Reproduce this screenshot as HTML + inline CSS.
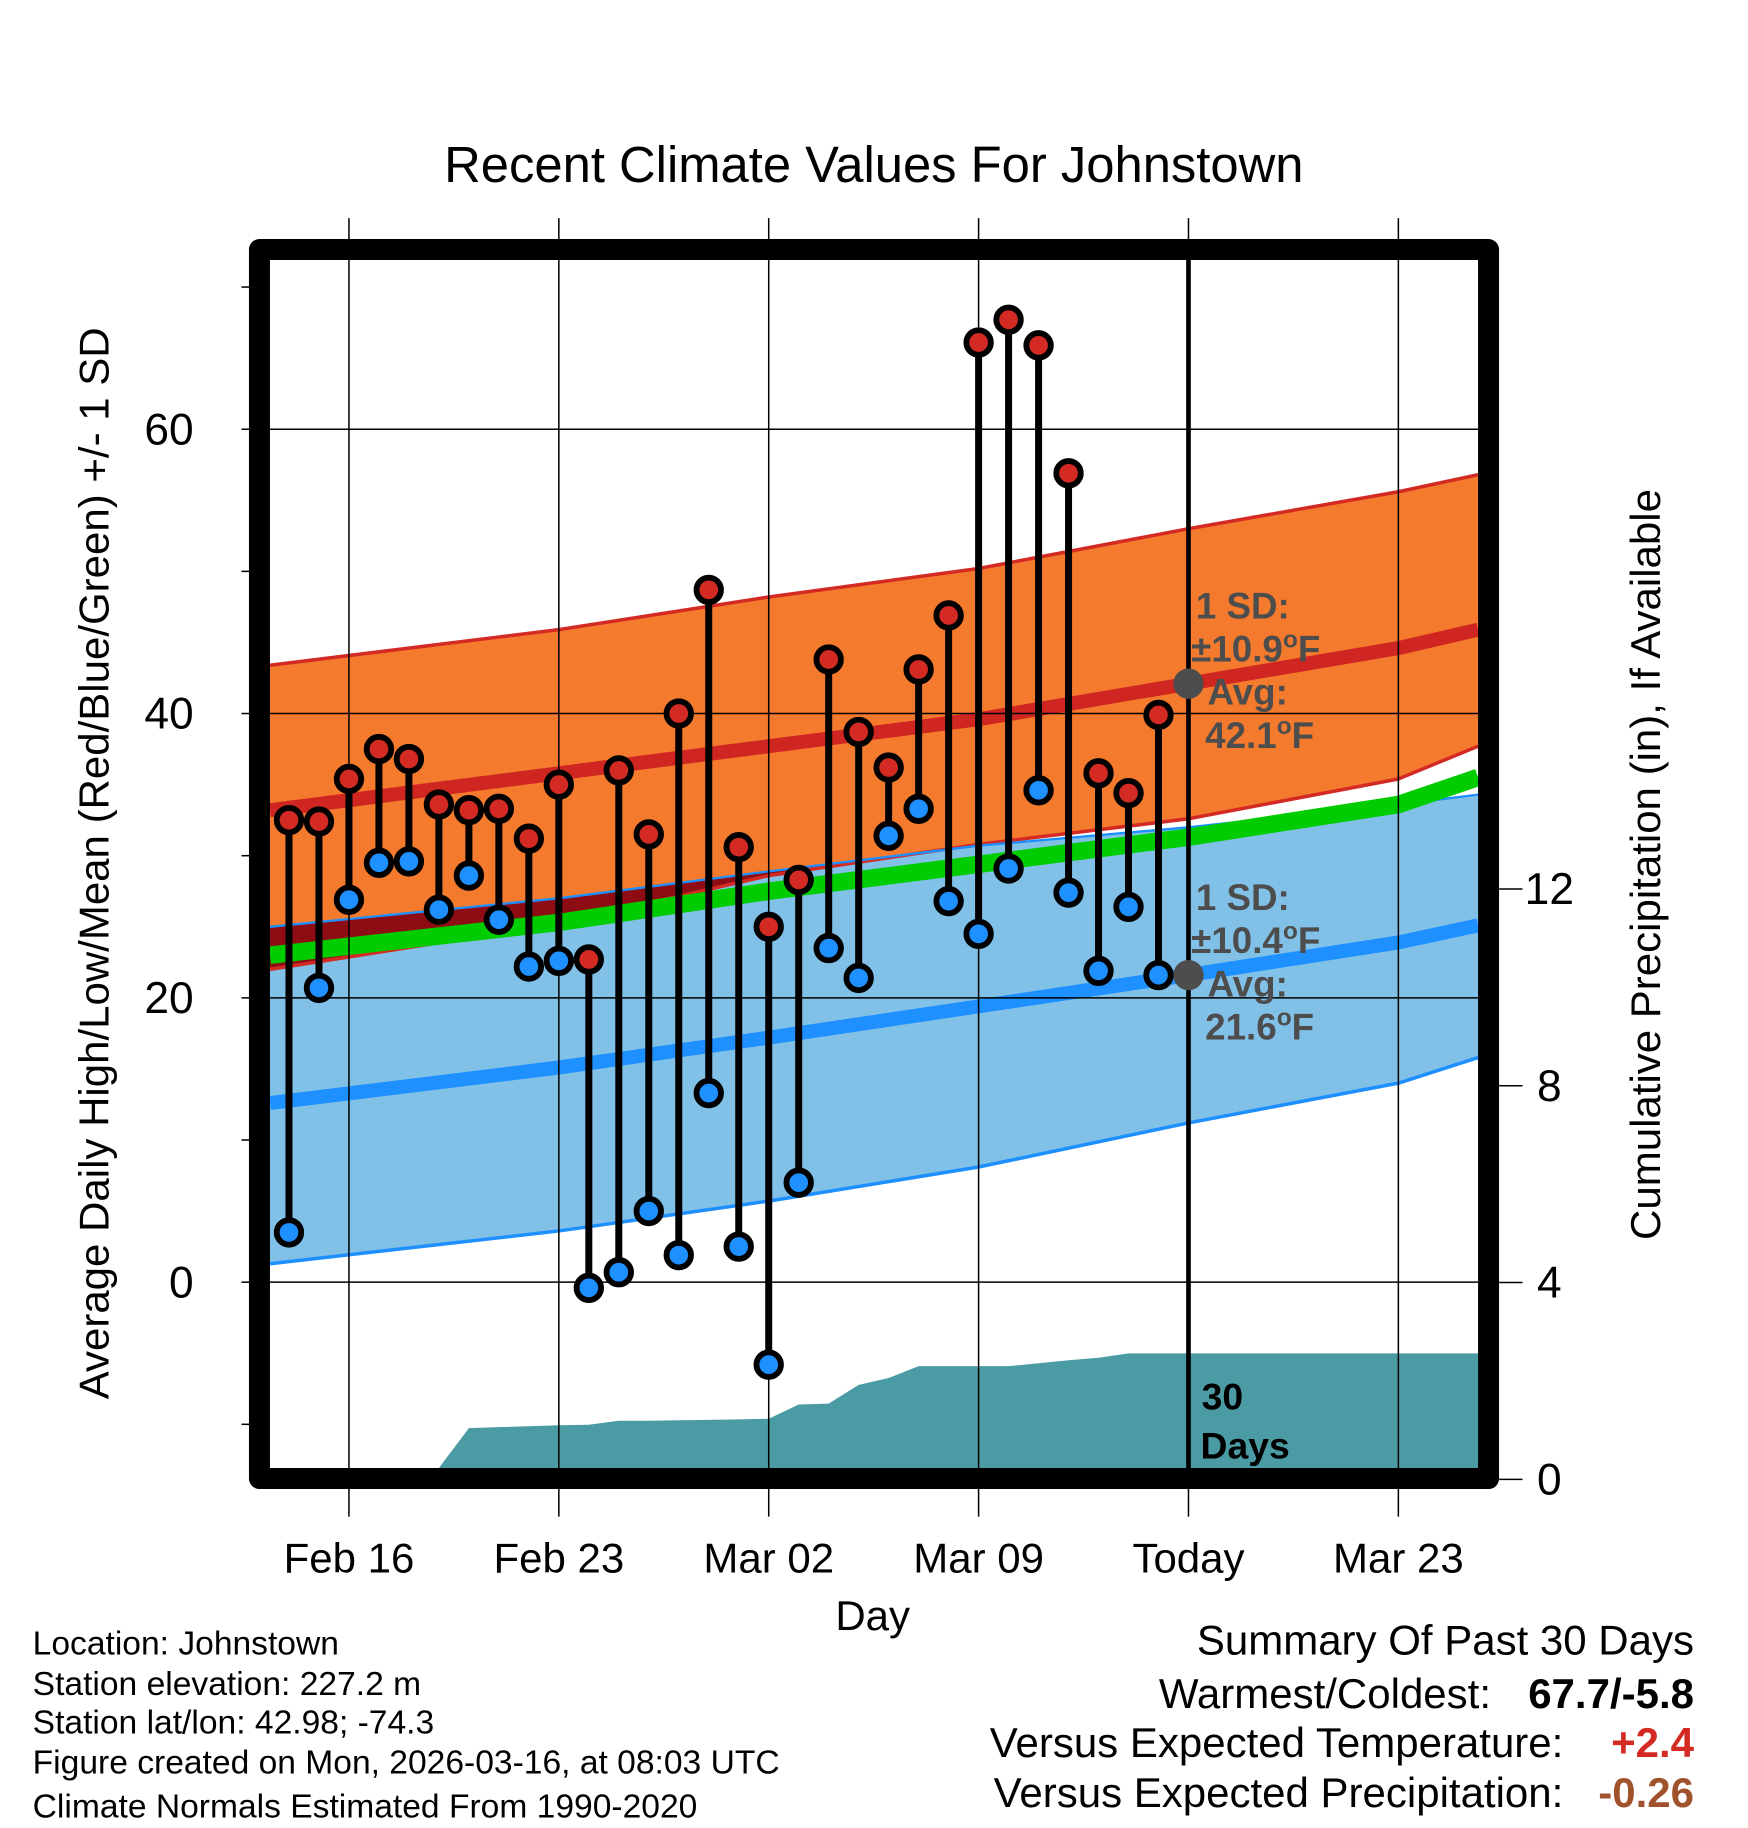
<!DOCTYPE html>
<html><head><meta charset="utf-8"><style>
html,body{margin:0;padding:0;background:#fff;}
svg{display:block;font-family:"Liberation Sans",Arial,sans-serif;}
</style></head><body>
<svg id="chart" xmlns="http://www.w3.org/2000/svg" width="1748" height="1828" viewBox="0 0 1498.2857 1566.857">
</svg>
<script>
// ---------- data ----------
const tickLabels = ["Feb 16","Feb 23","Mar 02","Mar 09","Today","Mar 23"];
const tickDays = [0,7,14,21,28,35];
const yTicks = [0,20,40,60];
const yMinor = [-10,10,30,50,70];
const pTicks = [0,4,8,12];
// normals at node days (days after Feb 16)
const nodeDays = [-2.65,7,14,21,28,35,37.66];
const highAvg = [33.2,35.8,37.7,39.6,42.1,44.6,45.9];
const highUpper = [43.4,45.9,48.2,50.2,53.0,55.6,56.8];
const highLower = [22.0,25.2,28.6,30.8,32.6,35.4,37.7];
const lowAvg = [12.6,15.1,17.2,19.4,21.6,23.9,25.1];
const lowUpper = [25.0,27.0,28.9,30.7,32.0,33.6,34.3];
const lowLower = [1.3,3.6,5.7,8.1,11.2,14.0,15.8];
const meanAvg = [23.0,25.3,27.5,29.4,31.3,33.6,35.5];
// observed, first day = Feb 14 (day -2)
const highs = [32.5,32.4,35.4,37.5,36.8,33.6,33.2,33.3,31.2,35.0,22.7,36.0,31.5,40.0,48.7,30.6,25.0,28.3,43.8,38.7,36.2,43.1,46.9,66.1,67.7,65.9,56.9,35.8,34.4,39.9];
const lows = [3.5,20.7,26.9,29.5,29.6,26.2,28.6,25.5,22.2,22.6,-0.4,0.7,5.0,1.9,13.3,2.5,-5.8,7.0,23.5,21.4,31.4,33.3,26.8,24.5,29.1,34.6,27.4,21.9,26.4,21.6];
const precipCum = [0,0,0,0,0,0,1.04,1.06,1.08,1.10,1.11,1.19,1.19,1.20,1.21,1.22,1.23,1.52,1.54,1.92,2.06,2.30,2.30,2.30,2.30,2.36,2.42,2.47,2.56,2.56];

// ---------- axes ----------
const L=231.4,R=1266.9,T=222.9,B=1258.3;
const X=d=>299.1+d*25.7;
const Y=v=>1099-12.185*v;
const P=p=>1268-42.17*p;
const dMin=(L-299.1)/25.7, dMax=(R-299.1)/25.7;
const svg=document.getElementById('chart');
const NS="http://www.w3.org/2000/svg";
function mk(tag,at,parent){const e=document.createElementNS(NS,tag);for(const k in at)e.setAttribute(k,at[k]);(parent||svg).appendChild(e);return e;}
function interp(d,arr){for(let i=0;i<nodeDays.length-1;i++){if(d<=nodeDays[i+1]){const t=(d-nodeDays[i])/(nodeDays[i+1]-nodeDays[i]);return arr[i]+t*(arr[i+1]-arr[i]);}}return arr[arr.length-1];}
function pts(days,vals){return days.map((d,i)=>X(Math.min(Math.max(d,dMin),dMax)).toFixed(1)+","+Y(vals[i]).toFixed(1));}
function band(up,lo){return pts(nodeDays,up).concat(pts(nodeDays,lo).reverse()).join(" ");}

let e=mk('polygon',{points:band(highUpper,highLower),fill:'#f47a2e'});

e=mk('polygon',{points:band(lowUpper,lowLower),fill:'#82c1e7'});

{let top=[],bot=[];const N=200;for(let i=0;i<=N;i++){const d=dMin+(dMax-dMin)*i/N;const hl=interp(d,highLower),lu=interp(d,lowUpper);if(hl<lu){top.push(X(d)+","+Y(lu));bot.push(X(d)+","+Y(hl));}}
if(top.length){e=mk('polygon',{points:top.concat(bot.reverse()).join(" "),fill:'#8e0c14'});
}}
e=mk('polyline',{points:pts(nodeDays,highUpper).join(" "),fill:'none',stroke:'#d42a24','stroke-width':3});

e=mk('polyline',{points:pts(nodeDays,highLower).join(" "),fill:'none',stroke:'#d42a24','stroke-width':3});

e=mk('polyline',{points:pts(nodeDays,lowUpper).join(" "),fill:'none',stroke:'#1e8fff','stroke-width':2});

e=mk('polyline',{points:pts(nodeDays,lowLower).join(" "),fill:'none',stroke:'#1e8fff','stroke-width':3});

e=mk('polyline',{points:pts(nodeDays,meanAvg).join(" "),fill:'none',stroke:'#00cc00','stroke-width':15});

e=mk('polyline',{points:pts(nodeDays,highAvg).join(" "),fill:'none',stroke:'#d02622','stroke-width':12});

e=mk('polyline',{points:pts(nodeDays,lowAvg).join(" "),fill:'none',stroke:'#1e90ff','stroke-width':12});


{let p=[L+","+B];precipCum.forEach((v,i)=>p.push(X(i-2).toFixed(1)+","+Math.min(B,P(v)).toFixed(1)));
p.push(R+","+P(precipCum[precipCum.length-1]).toFixed(1));p.push(R+","+B);
e=mk('polygon',{points:p.join(" "),fill:'#4a9ba4'});
}

yTicks.forEach(v=>{e=mk('line',{x1:L,x2:R,y1:Y(v),y2:Y(v),stroke:'#000','stroke-width':1.3});
});
tickDays.forEach((d,i)=>{e=mk('line',{x1:X(d),x2:X(d),y1:187,y2:1300,stroke:'#000','stroke-width':1.3});
});
e=mk('line',{x1:X(28),x2:X(28),y1:T,y2:B,stroke:'#000','stroke-width':4});


function ann(y,lines,name){const g=mk('g',{});
lines.forEach((l,i)=>{const t=mk('text',{x:l[1],y:y+i*37,'font-size':31.5,'font-weight':'bold',fill:'#4d4d4d'},g);t.innerHTML=l[0];});}
ann(530,[["1 SD:",1025],["±10.9<tspan font-size='21' dy='-12'>o</tspan><tspan dy='12'>F</tspan>",1021],["Avg:",1035],["42.1<tspan font-size='21' dy='-12'>o</tspan><tspan dy='12'>F</tspan>",1033]],'high-annotation');
ann(780,[["1 SD:",1025],["±10.4<tspan font-size='21' dy='-12'>o</tspan><tspan dy='12'>F</tspan>",1021],["Avg:",1035],["21.6<tspan font-size='21' dy='-12'>o</tspan><tspan dy='12'>F</tspan>",1033]],'low-annotation');
e=mk('circle',{cx:X(28),cy:Y(42.1),r:13,fill:'#4d4d4d'});

e=mk('circle',{cx:X(28),cy:Y(21.6),r:13,fill:'#4d4d4d'});


highs.forEach((h,i)=>{const x=X(i-2);
e=mk('line',{x1:x,x2:x,y1:Y(h),y2:Y(lows[i]),stroke:'#000','stroke-width':6});
});
highs.forEach((h,i)=>{const x=X(i-2);
e=mk('circle',{cx:x,cy:Y(h),r:10.5,fill:'#d42a24',stroke:'#000','stroke-width':5});

e=mk('circle',{cx:x,cy:Y(lows[i]),r:10.5,fill:'#1e90ff',stroke:'#000','stroke-width':5});
});

e=mk('text',{x:1030,y:1208,'font-size':32,'font-weight':'bold',fill:'#000'});e.textContent="30";

e=mk('text',{x:1029,y:1250,'font-size':32,'font-weight':'bold',fill:'#000'});e.textContent="Days";


e=mk('rect',{x:222.4,y:213.9,width:1053.5,height:1053.4,fill:'none',stroke:'#000','stroke-width':18,'stroke-linejoin':'round'});


yTicks.forEach(v=>{e=mk('line',{x1:207,x2:214,y1:Y(v),y2:Y(v),stroke:'#000','stroke-width':1.3});

e=mk('text',{x:166,y:Y(v)+13,'font-size':38,'text-anchor':'end'});e.textContent=v;
});
yMinor.forEach(v=>{e=mk('line',{x1:207,x2:214,y1:Y(v),y2:Y(v),stroke:'#000','stroke-width':1.3});
});
pTicks.forEach(p=>{e=mk('line',{x1:1285,x2:1305,y1:P(p),y2:P(p),stroke:'#000','stroke-width':1.3});

e=mk('text',{x:1328,y:P(p)+13,'font-size':38,'text-anchor':'middle'});e.textContent=p;
});
tickLabels.forEach((t,i)=>{e=mk('text',{x:X(tickDays[i]),y:1348,'font-size':36,'text-anchor':'middle'});e.textContent=t;
});

e=mk('text',{x:749,y:156,'font-size':43.5,'text-anchor':'middle'});e.textContent="Recent Climate Values For Johnstown";

e=mk('text',{x:748,y:1397,'font-size':36,'text-anchor':'middle'});e.textContent="Day";

e=mk('text',{x:0,y:0,'font-size':36,'text-anchor':'middle',transform:'translate(93,740) rotate(-90)'});e.textContent="Average Daily High/Low/Mean (Red/Blue/Green) +/- 1 SD";

e=mk('text',{x:0,y:0,'font-size':36,'text-anchor':'middle',transform:'translate(1423,741) rotate(-90)'});e.textContent="Cumulative Precipitation (in), If Available";


["Location: Johnstown","Station elevation: 227.2 m","Station lat/lon: 42.98; -74.3","Figure created on Mon, 2026-03-16, at 08:03 UTC","Climate Normals Estimated From 1990-2020"].forEach((t,i)=>{
e=mk('text',{x:28,y:[1418,1453,1486,1520,1558][i],'font-size':28.8});e.textContent=t;
});
e=mk('text',{x:1452,y:1418,'font-size':36,'text-anchor':'end'});e.textContent="Summary Of Past 30 Days";

const sumRows=[["Warmest/Coldest:","67.7/-5.8","#000",1464,1278],["Versus Expected Temperature:","+2.4","#d42a24",1506,1340],["Versus Expected Precipitation:","-0.26","#a0522d",1549,1340]];
sumRows.forEach(r=>{e=mk('text',{x:r[4],y:r[3],'font-size':36,'text-anchor':'end'});e.textContent=r[0];

e=mk('text',{x:1452,y:r[3],'font-size':36,'font-weight':'bold','text-anchor':'end',fill:r[2]});e.textContent=r[1];
});
</script>
</body></html>
